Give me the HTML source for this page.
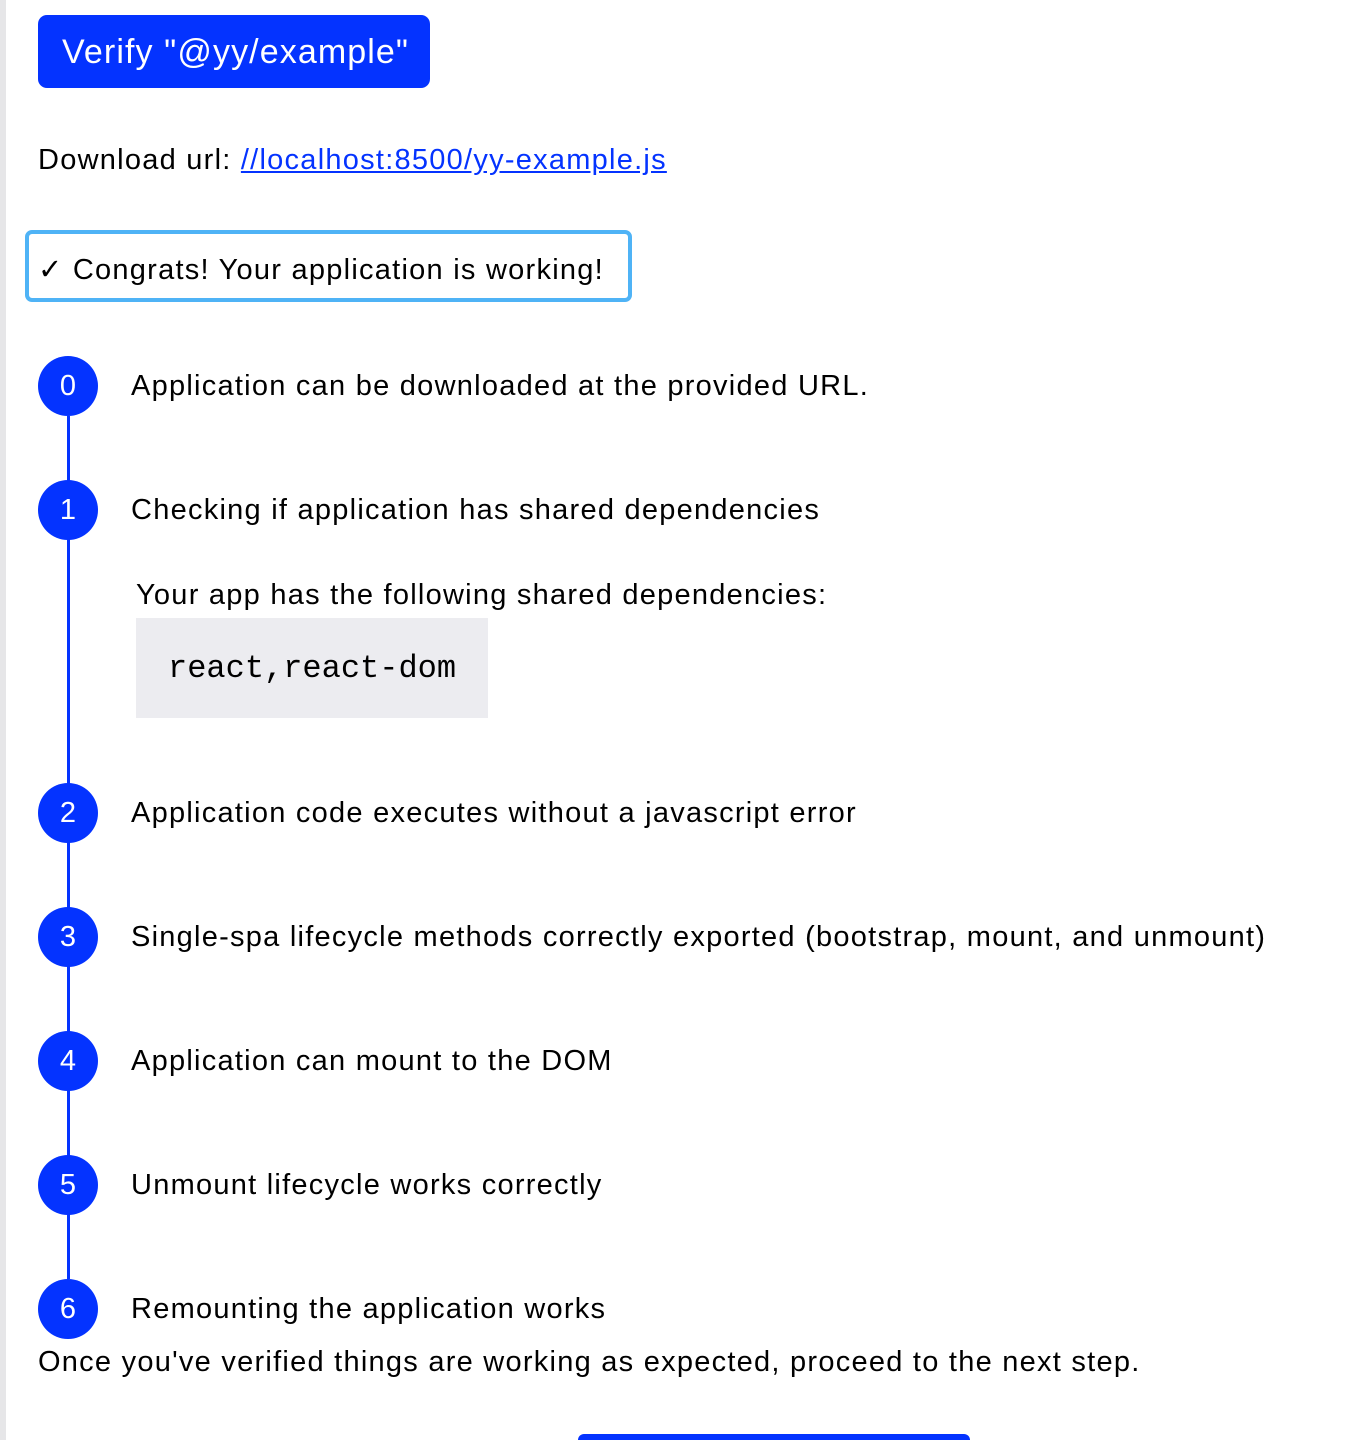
<!DOCTYPE html>
<html><head><meta charset="utf-8"><style>
html,body{margin:0;padding:0;background:#fff;height:1440px;overflow:hidden;}
body{width:1360px;position:relative;font-family:"Liberation Sans",Arial,sans-serif;color:#000;}
.strip{position:absolute;left:0;top:0;width:6px;height:1440px;background:#e6e6e8;}
.a{position:absolute;white-space:nowrap;}
.btn{position:absolute;background:#0433ff;border-radius:9px;color:#fff;}
.t{position:absolute;font-size:29px;line-height:34px;white-space:nowrap;letter-spacing:1.25px;}
.c{position:absolute;left:38px;width:60px;height:60px;border-radius:50%;background:#0433ff;color:#fff;font-size:29px;line-height:60px;text-align:center;}
.line{position:absolute;left:67px;width:3px;top:416px;height:863px;background:#0433ff;}
</style></head><body>
<div class="strip"></div>
<div class="btn" style="left:38px;top:15px;width:392px;height:73px;"><div class="a" style="left:24px;top:17px;font-size:34px;line-height:40px;letter-spacing:1.1px;">Verify "@yy/example"</div></div>
<div class="t" style="left:38px;top:143px;">Download url: <span style="color:#0433ff;text-decoration:underline;">//localhost:8500/yy-example.js</span></div>
<div class="a" style="left:25px;top:230px;width:599px;height:64px;border:4px solid #4fb3f6;border-radius:7px;"></div>
<div class="t" style="left:38px;top:253px;">✓ Congrats! Your application is working!</div>
<div class="line"></div>
<div class="c" style="top:356px;">0</div>
<div class="t" style="left:131px;top:369px;">Application can be downloaded at the provided URL.</div>
<div class="c" style="top:480px;">1</div>
<div class="t" style="left:131px;top:493px;">Checking if application has shared dependencies</div>
<div class="t" style="left:136px;top:578px;">Your app has the following shared dependencies:</div>
<div class="a" style="left:136px;top:618px;width:352px;height:100px;background:#ececf0;"></div>
<div class="a" style="left:168px;top:651px;font-family:'Liberation Mono',monospace;font-size:32px;line-height:36px;">react,react-dom</div>
<div class="c" style="top:783px;">2</div>
<div class="t" style="left:131px;top:796px;">Application code executes without a javascript error</div>
<div class="c" style="top:907px;">3</div>
<div class="t" style="left:131px;top:920px;">Single-spa lifecycle methods correctly exported (bootstrap, mount, and unmount)</div>
<div class="c" style="top:1031px;">4</div>
<div class="t" style="left:131px;top:1044px;">Application can mount to the DOM</div>
<div class="c" style="top:1155px;">5</div>
<div class="t" style="left:131px;top:1168px;">Unmount lifecycle works correctly</div>
<div class="c" style="top:1279px;">6</div>
<div class="t" style="left:131px;top:1292px;">Remounting the application works</div>
<div class="t" style="left:38px;top:1345px;">Once you've verified things are working as expected, proceed to the next step.</div>
<div class="btn" style="left:578px;top:1434px;width:392px;height:6px;border-radius:9px 9px 0 0;"></div>
</body></html>
